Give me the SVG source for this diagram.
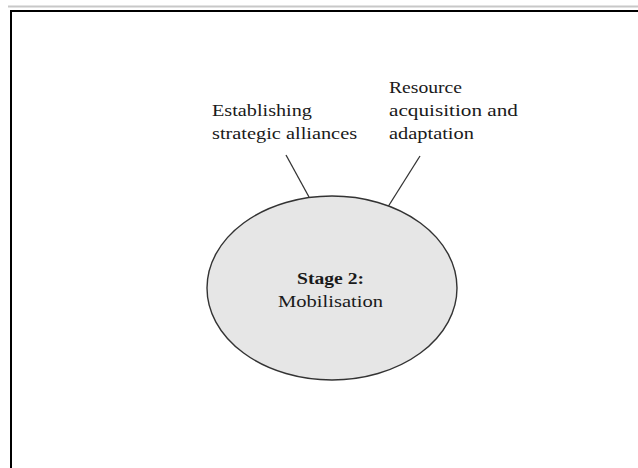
<svg xmlns="http://www.w3.org/2000/svg" width="638" height="468" viewBox="0 0 638 468">
<style>
.lbl{font-family:'Liberation Serif','Times New Roman',serif;font-size:16px;fill:#1a1a1a}
.bold{font-weight:bold}
.conn{stroke:#333;stroke-width:1.3;fill:none}
</style>
<rect x="0" y="0" width="638" height="468" fill="#ffffff"/>
<g id="frame">
<line x1="8" y1="6.5" x2="638" y2="6.5" stroke="#c8c8c8" stroke-width="2"/>
<rect x="11" y="11" width="700" height="500" fill="none" stroke="#000" stroke-width="2"/>
</g>
<g id="connectors">
<line class="conn" x1="286" y1="155" x2="309" y2="197"/>
<line class="conn" x1="420" y1="156" x2="388.5" y2="206"/>
</g>
<g id="stage2">
<ellipse cx="332" cy="288" rx="125" ry="92" fill="#e6e6e6" stroke="#333" stroke-width="1.4"/>
<text class="lbl bold" transform="translate(297,284) scale(1.24,1)" textLength="54" lengthAdjust="spacingAndGlyphs">Stage 2:</text>
<text class="lbl" transform="translate(278,307) scale(1.24,1)" textLength="84.7" lengthAdjust="spacingAndGlyphs">Mobilisation</text>
</g>
<g id="alliances">
<text class="lbl" transform="translate(212,116) scale(1.24,1)" textLength="80.6" lengthAdjust="spacingAndGlyphs">Establishing</text>
<text class="lbl" transform="translate(212,139) scale(1.24,1)" textLength="117" lengthAdjust="spacingAndGlyphs">strategic alliances</text>
</g>
<g id="resources">
<text class="lbl" transform="translate(389,93) scale(1.24,1)" textLength="58.9" lengthAdjust="spacingAndGlyphs">Resource</text>
<text class="lbl" transform="translate(389,116) scale(1.24,1)" textLength="104" lengthAdjust="spacingAndGlyphs">acquisition and</text>
<text class="lbl" transform="translate(389,139) scale(1.24,1)" textLength="68.5" lengthAdjust="spacingAndGlyphs">adaptation</text>
</g>
</svg>
